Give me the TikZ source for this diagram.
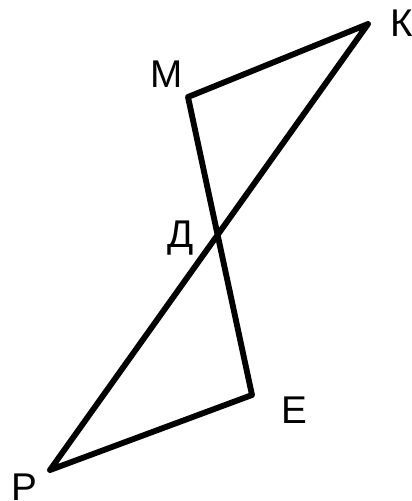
\documentclass[tikz,border=0pt]{standalone}
\usepackage{fontspec}
\setmainfont{Liberation Sans}
\usepackage{tikz}
\usetikzlibrary{positioning,calc}
\tikzset{
    side/.style={black,line width=5pt,line join=round,line cap=round},
    vlabel/.style={inner sep=0pt,font=\fontsize{33}{33}\selectfont}
}

\begin{document}
\begin{tikzpicture}[x=0.03cm,y=-0.03cm]

    % Frame
    \useasboundingbox (0,0) rectangle (411,501);

    % Vertices
    \coordinate (K) at (368,24);
    \coordinate (M) at (188,97);
    \coordinate (E) at (252,395);
    \coordinate (P) at (50,470);

    % Sides
    \draw[side] (P) -- (K) -- (M) -- (E) -- cycle;

    % Labels
    \node[vlabel] (labK) at (402,23) {К};
    \node[vlabel] (labM) at (167,74) {М};
    \node[vlabel] (labD) at (181,238) {Д};
    \node[vlabel] (labE) at (294,410) {Е};
    \node[vlabel] (labP) at (24,487) {Р};

\end{tikzpicture}
\end{document}
